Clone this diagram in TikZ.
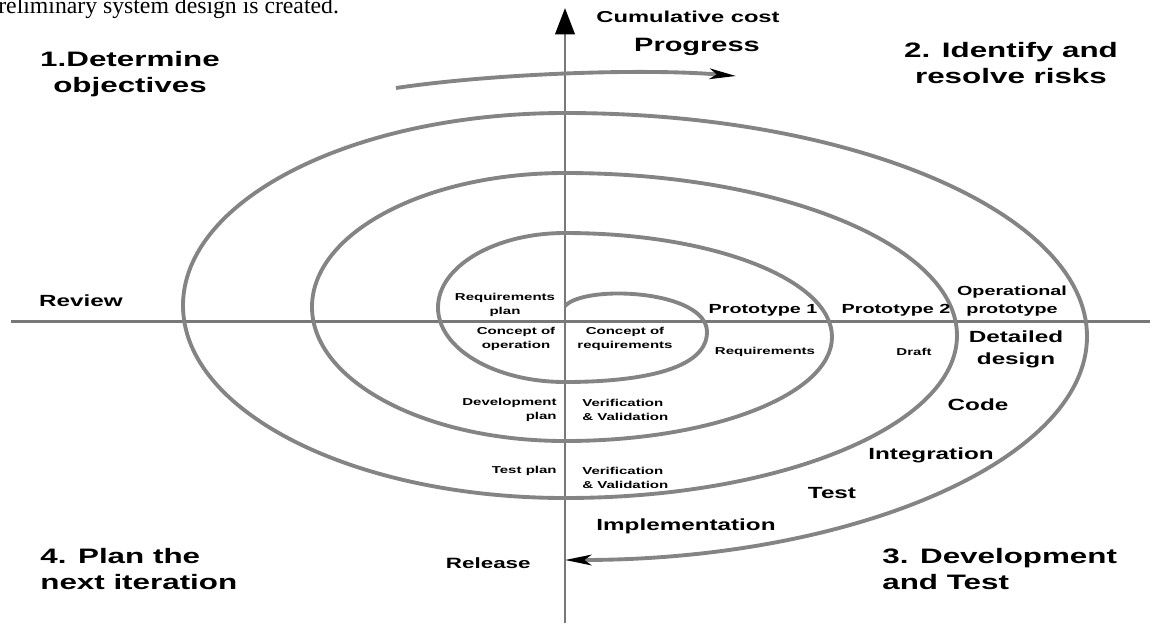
\documentclass[tikz,border=0pt]{standalone}
\usepackage{fontspec}
\setmainfont{Liberation Serif}
\setsansfont[FakeStretch=1.5]{Liberation Sans}
\usetikzlibrary{arrows.meta, positioning}
\definecolor{my_gray}{RGB}{132, 132, 132}
\definecolor{my_darkgray}{RGB}{120, 120, 120}
\tikzset {
  axisline/.style = {draw=my_darkgray, line width=1.7pt},
  spiral/.style = {draw=my_gray, line width=2.2pt},
  arrowtip/.style = {-{Stealth[length=15pt, width=6pt, inset=4pt, black]}},
  quadtitle/.style = {inner sep=0, align=left, font=\sffamily\bfseries\fontsize{11.9}{14.6}\selectfont},
  bigtext/.style = {inner sep=0, align=center, font=\sffamily\bfseries\fontsize{9.2}{12.5}\selectfont},
  midtext/.style = {inner sep=0, align=center, font=\sffamily\bfseries\fontsize{7.5}{10}\selectfont},
  smalltext/.style = {inner sep=0, align=center, font=\sffamily\bfseries\fontsize{5.7}{7.9}\selectfont}
}

\begin{document}
\begin{tikzpicture}[x=0.02cm, y=-0.02cm]
    \useasboundingbox (0,0) rectangle (1160,623);

    \node[anchor=base west, inner sep=0, font=\rmfamily\fontsize{13.5}{16}\selectfont] (intro) at (-2,13) {reliminary system design is created.};

    \coordinate (ybot) at (565,623);
    \coordinate (ytop) at (565,8);
    \coordinate (xleft) at (11,321);
    \coordinate (xright) at (1150,321);
    \draw[axisline, -{Triangle[length=15pt, width=11pt, black]}] (ybot) -- (ytop);
    \draw[axisline] (xleft) -- (xright);

    % spiral: one half ellipse per half turn
    \coordinate (s0) at (565,306);
    \draw[spiral, arrowtip] (s0)
        .. controls (585,284) and (707,290) .. (707,332)
        .. controls (707,375) and (620,382) .. (565,382)
        arc[start angle=90, end angle=270, x radius=127, y radius=74.5]
        arc[start angle=-90, end angle=90, x radius=267, y radius=104]
        arc[start angle=90, end angle=270, x radius=253, y radius=134]
        arc[start angle=-90, end angle=90, x radius=392, y radius=162.5]
        arc[start angle=90, end angle=270, x radius=382, y radius=192.5]
        arc[start angle=-90, end angle=90, x radius=522, y radius=223.5];

    \coordinate (pstart) at (396,88);
    \coordinate (pend) at (736,76);
    \draw[spiral, arrowtip] (pstart) .. controls (490,74) and (640,68) .. (pend);

    \node[bigtext, font=\sffamily\bfseries\fontsize{9}{10}\selectfont] (cost) at (688,17) {Cumulative cost};
    \node[quadtitle, font=\sffamily\bfseries\fontsize{11}{13}\selectfont] (progress) at (697,47) {Progress};

    \node[quadtitle, align=center] (determine) at (130,74) {1.Determine\\objectives};
    \node[quadtitle, align=center] (identify) at (1011,63) {2. Identify and\\resolve risks};
    \node[quadtitle, anchor=west] (devtest) at (882,569) {3. Development\\and Test};
    \node[quadtitle, anchor=west] (plannext) at (40,569) {4. Plan the\\next iteration};

    \node[bigtext] (review) at (81,301) {Review};
    \node[bigtext, font=\sffamily\bfseries\fontsize{8.5}{10}\selectfont, anchor=east] (release) at (531,563) {Release};

    \node[smalltext] (reqplan) at (505,305) {Requirements\\plan};
    \node[smalltext] (conop) at (516,339) {Concept of\\operation};
    \node[smalltext] (conreq) at (625,339) {Concept of\\requirements};
    \node[smalltext, align=right, anchor=east] (devplan) at (557,410) {Development\\plan};
    \node[smalltext, align=left, anchor=west] (vv1) at (582,410) {Verification\\\& Validation};
    \node[smalltext, anchor=east] (testplan) at (557,471) {Test plan};
    \node[smalltext, align=left, anchor=west] (vv2) at (582,478) {Verification\\\& Validation};
    \node[smalltext] (req) at (765,352) {Requirements};
    \node[smalltext] (draft) at (914,352) {Draft};

    \node[midtext] (proto1) at (763,310) {Prototype 1};
    \node[midtext] (proto2) at (896,310) {Prototype 2};
    \node[midtext] (opproto) at (1012,301) {Operational\\prototype};

    \node[bigtext] (detdesign) at (1016,349) {Detailed\\design};
    \node[bigtext] (code) at (978,405) {Code};
    \node[bigtext] (integ) at (931,455) {Integration};
    \node[bigtext] (test) at (832,493) {Test};
    \node[bigtext] (impl) at (686,526) {Implementation};

\end{tikzpicture}
\end{document}
